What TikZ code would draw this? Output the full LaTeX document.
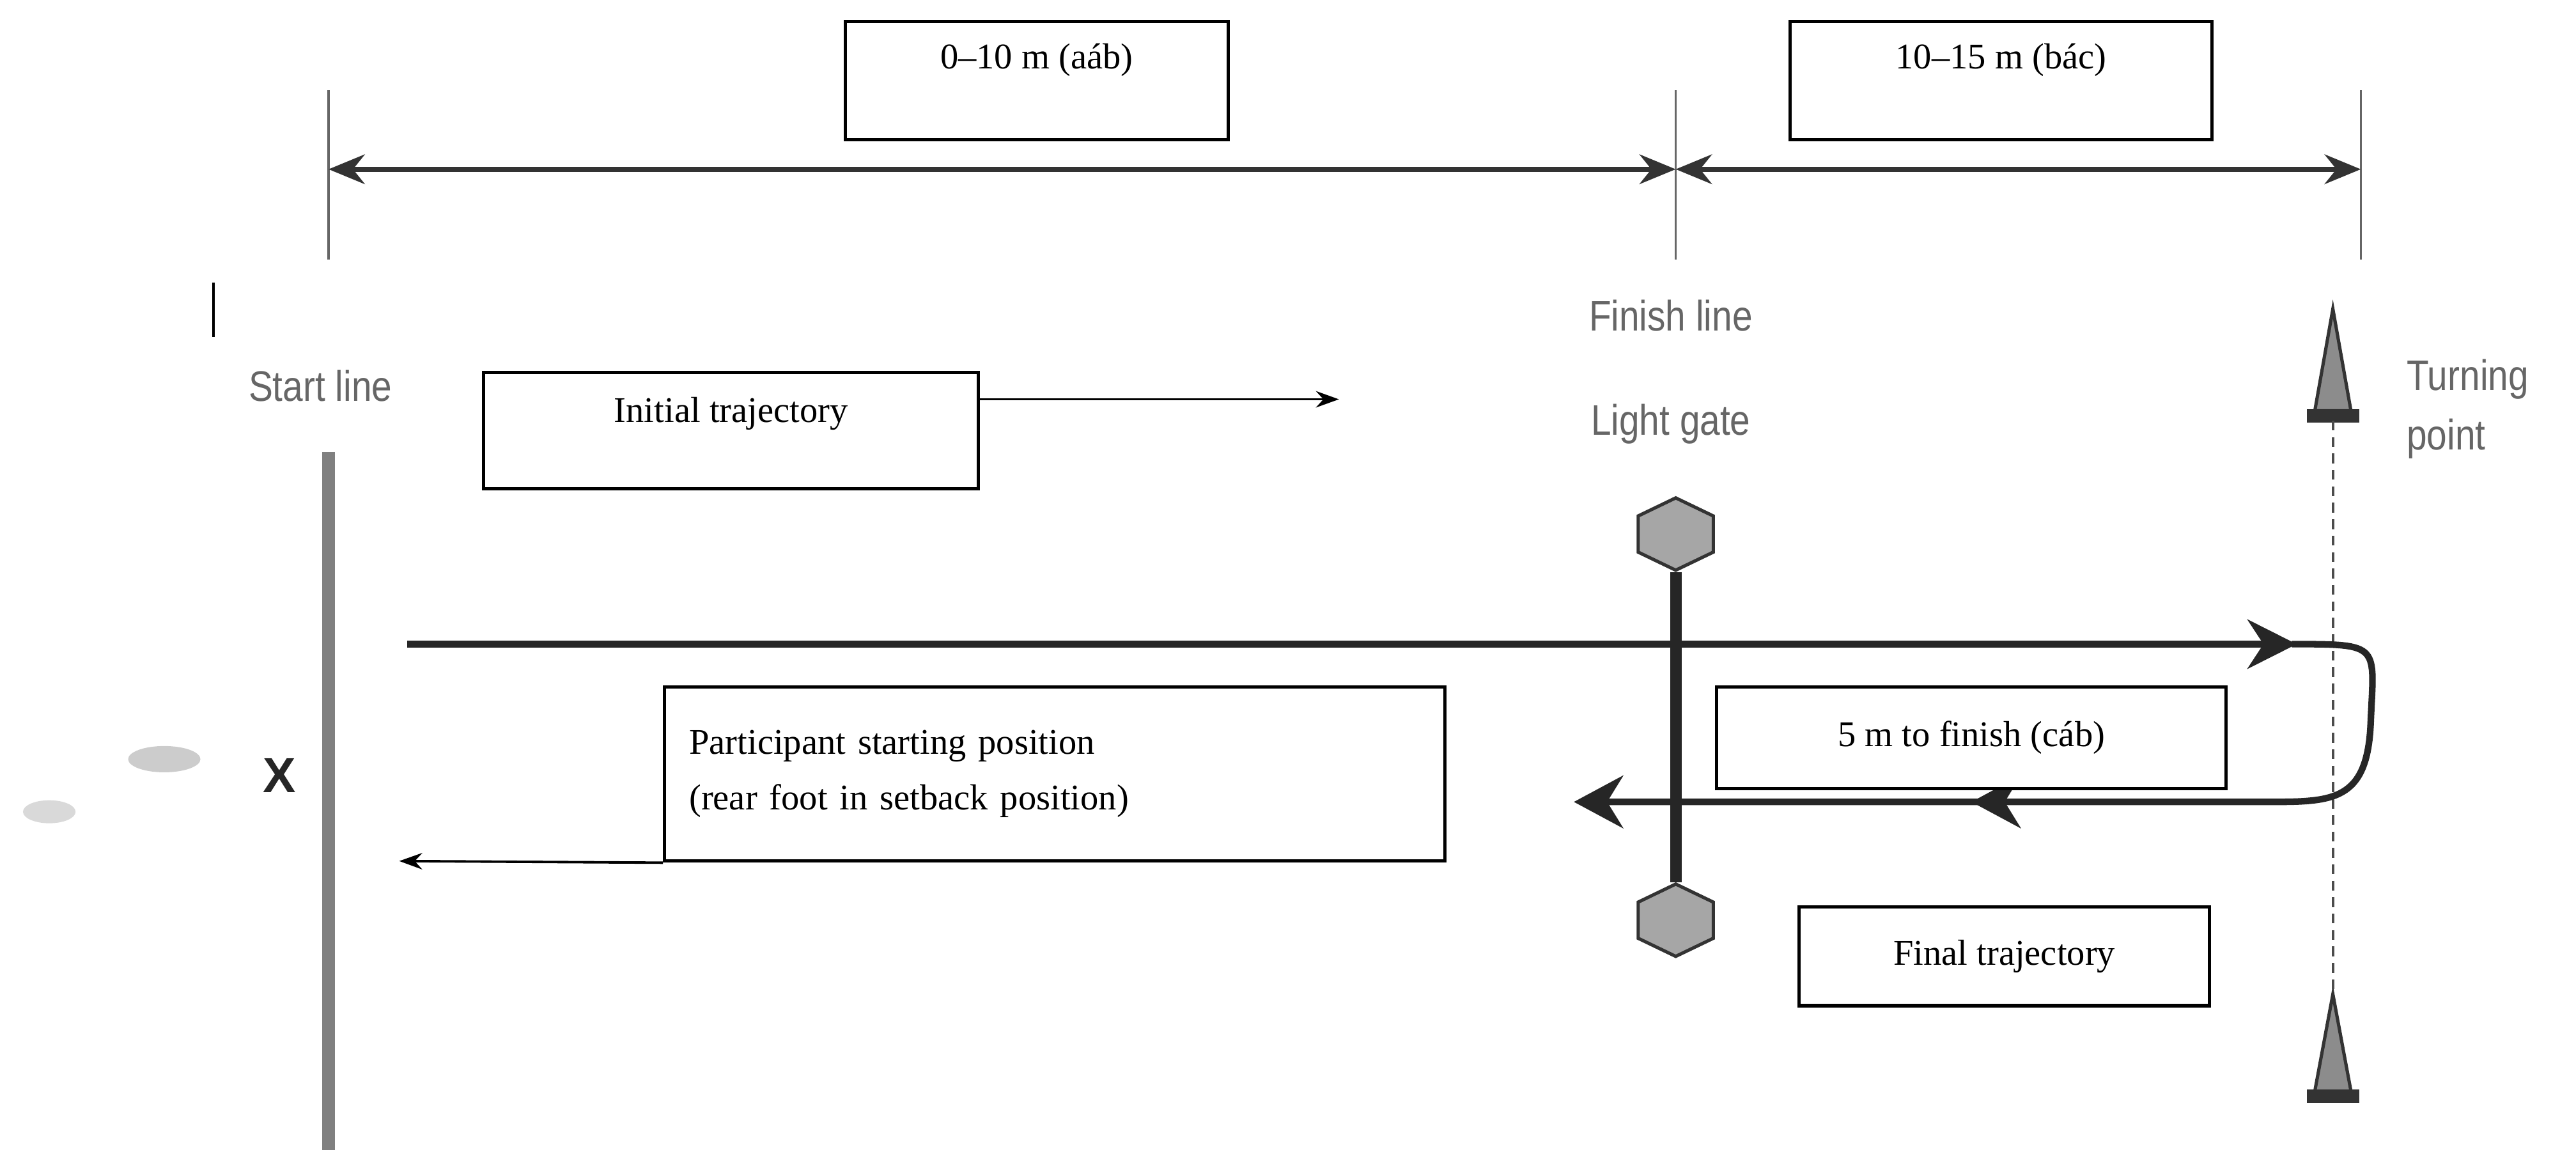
\documentclass[tikz,border=0pt]{standalone}
\usepackage{fontspec}
\setmainfont{Liberation Serif}
\newfontfamily\lsans{Liberation Sans}
\usetikzlibrary{arrows.meta,shapes.geometric}
\begin{document}
\begin{tikzpicture}[x=1pt,y=-1pt,
  box/.style={draw,line width=2pt,fill=white,inner sep=0pt,font=\fontsize{22}{26}\selectfont},
  glabel/.style={text=black!60,font=\lsans\fontsize{26}{30}\selectfont,xscale=0.85},
  dim/.style={line width=3pt,black!80,{Stealth[length=22pt,width=18pt]}-{Stealth[length=22pt,width=18pt]}},
  tick/.style={line width=1.2pt,black!60},
  run/.style={line width=4pt,black!85},
  thin/.style={line width=1.5pt,-{Stealth[length=14pt,width=10pt]}},
  gate/.style={regular polygon,regular polygon sides=6,rotate=90,minimum size=44pt,draw=black!80,line width=2pt,fill=black!35,inner sep=0pt,yscale=1.2},
  cone/.style={draw=black!80,line width=2pt,fill=black!45}]
\useasboundingbox (0,0) rectangle (1568,712);
% ticks
\coordinate (t1a) at (200,55); \coordinate (t1b) at (200,158);
\coordinate (t2a) at (1020,55); \coordinate (t2b) at (1020,158);
\coordinate (t3a) at (1437,55); \coordinate (t3b) at (1437,158);
\draw[tick] (t1a)--(t1b); \draw[tick] (t2a)--(t2b); \draw[tick] (t3a)--(t3b);
\coordinate (d1) at (200,103); \coordinate (d2) at (1020,103); \coordinate (d3) at (1437,103);
\draw[dim] (d1)--(d2);
\draw[dim] (d2)--(d3);
\node[box,minimum width=233pt,minimum height=72pt,text depth=30pt] (b1) at (631,49) {0--10 m (aáb)};
\node[box,minimum width=257pt,minimum height=72pt,text depth=30pt] (b2) at (1218,49) {10--15 m (bác)};
% start
\coordinate (m1) at (130,172); \coordinate (m2) at (130,205);
\draw[line width=1.5pt] (m1)--(m2);
\node[glabel] (start) at (195,235) {Start line};
\coordinate (s1) at (200,275); \coordinate (s2) at (200,700);
\draw[line width=8pt,black!50] (s1)--(s2);
\node[font=\lsans\bfseries\fontsize{30}{30}\selectfont,text=black!85] (X) at (170,472) {X};
\fill[black!20] (100,462) ellipse (22pt and 8pt);
\fill[black!15] (30,494) ellipse (16pt and 7pt);
% initial
\node[box,minimum width=301pt,minimum height=71pt,text depth=25pt] (init) at (445,262) {Initial trajectory};
\coordinate (ia) at (815,243);
\draw[thin] (init.east |- ia) -- (ia);
% finish
\node[glabel] (fin) at (1017,192) {Finish line};
\node[glabel] (lg) at (1017,258) {Light gate};
\node[gate] (g1) at (1020,325) {};
\node[gate] (g2) at (1020,560) {};
\draw[line width=7pt,black!85] (g1.west)--(g2.east);
% turning
\coordinate (c1top) at (1420,188); \coordinate (c2top) at (1420,605);
\draw[cone] (1420,188) -- (1431,250) -- (1409,250) -- cycle;
\draw[cone,fill=black!80] (1405,250) rectangle (1435,256);
\draw[cone] (1420,605) -- (1431,664) -- (1409,664) -- cycle;
\draw[cone,fill=black!80] (1405,664) rectangle (1435,670);
\coordinate (dl1) at (1420,256); \coordinate (dl2) at (1420,605);
\draw[line width=1.5pt,dashed,dash pattern=on 6pt off 4pt,black!70] (dl1)--(dl2);
\node[glabel,anchor=west,align=left,font=\lsans\fontsize{26}{36}\selectfont] (tp) at (1462,249) {Turning\\point};
% run path
\coordinate (r0) at (248,392); \coordinate (r1) at (1400,392);
\coordinate (r2) at (1400,488); \coordinate (r3) at (958,488);
\draw[run,-{Stealth[length=30pt,width=30pt]}] (r0) -- (1398,392);
\draw[run,-{Stealth[length=30pt,width=32pt]}] (1395,392) .. controls (1450,392) and (1445,392) .. (1443,440) .. controls (1441,488) and (1420,488) .. (1380,488) -- (r3);
\draw[run,-{Stealth[length=30pt,width=32pt]}] (1300,488) -- (1200,488);
\node[box,minimum width=310pt,minimum height=62pt] (five) at (1200,449) {5 m to finish (cáb)};
\node[box,minimum width=475pt,minimum height=106pt,align=left,text width=445pt,font=\fontsize{22}{34}\selectfont] (part) at (642,471) {Participant starting position\\(rear foot in setback position)};
\coordinate (pa) at (243,524);
\draw[thin] (part.south west) -- (pa);
\node[box,minimum width=250pt,minimum height=60pt] (final) at (1220,582) {Final trajectory};
\end{tikzpicture}
\end{document}
